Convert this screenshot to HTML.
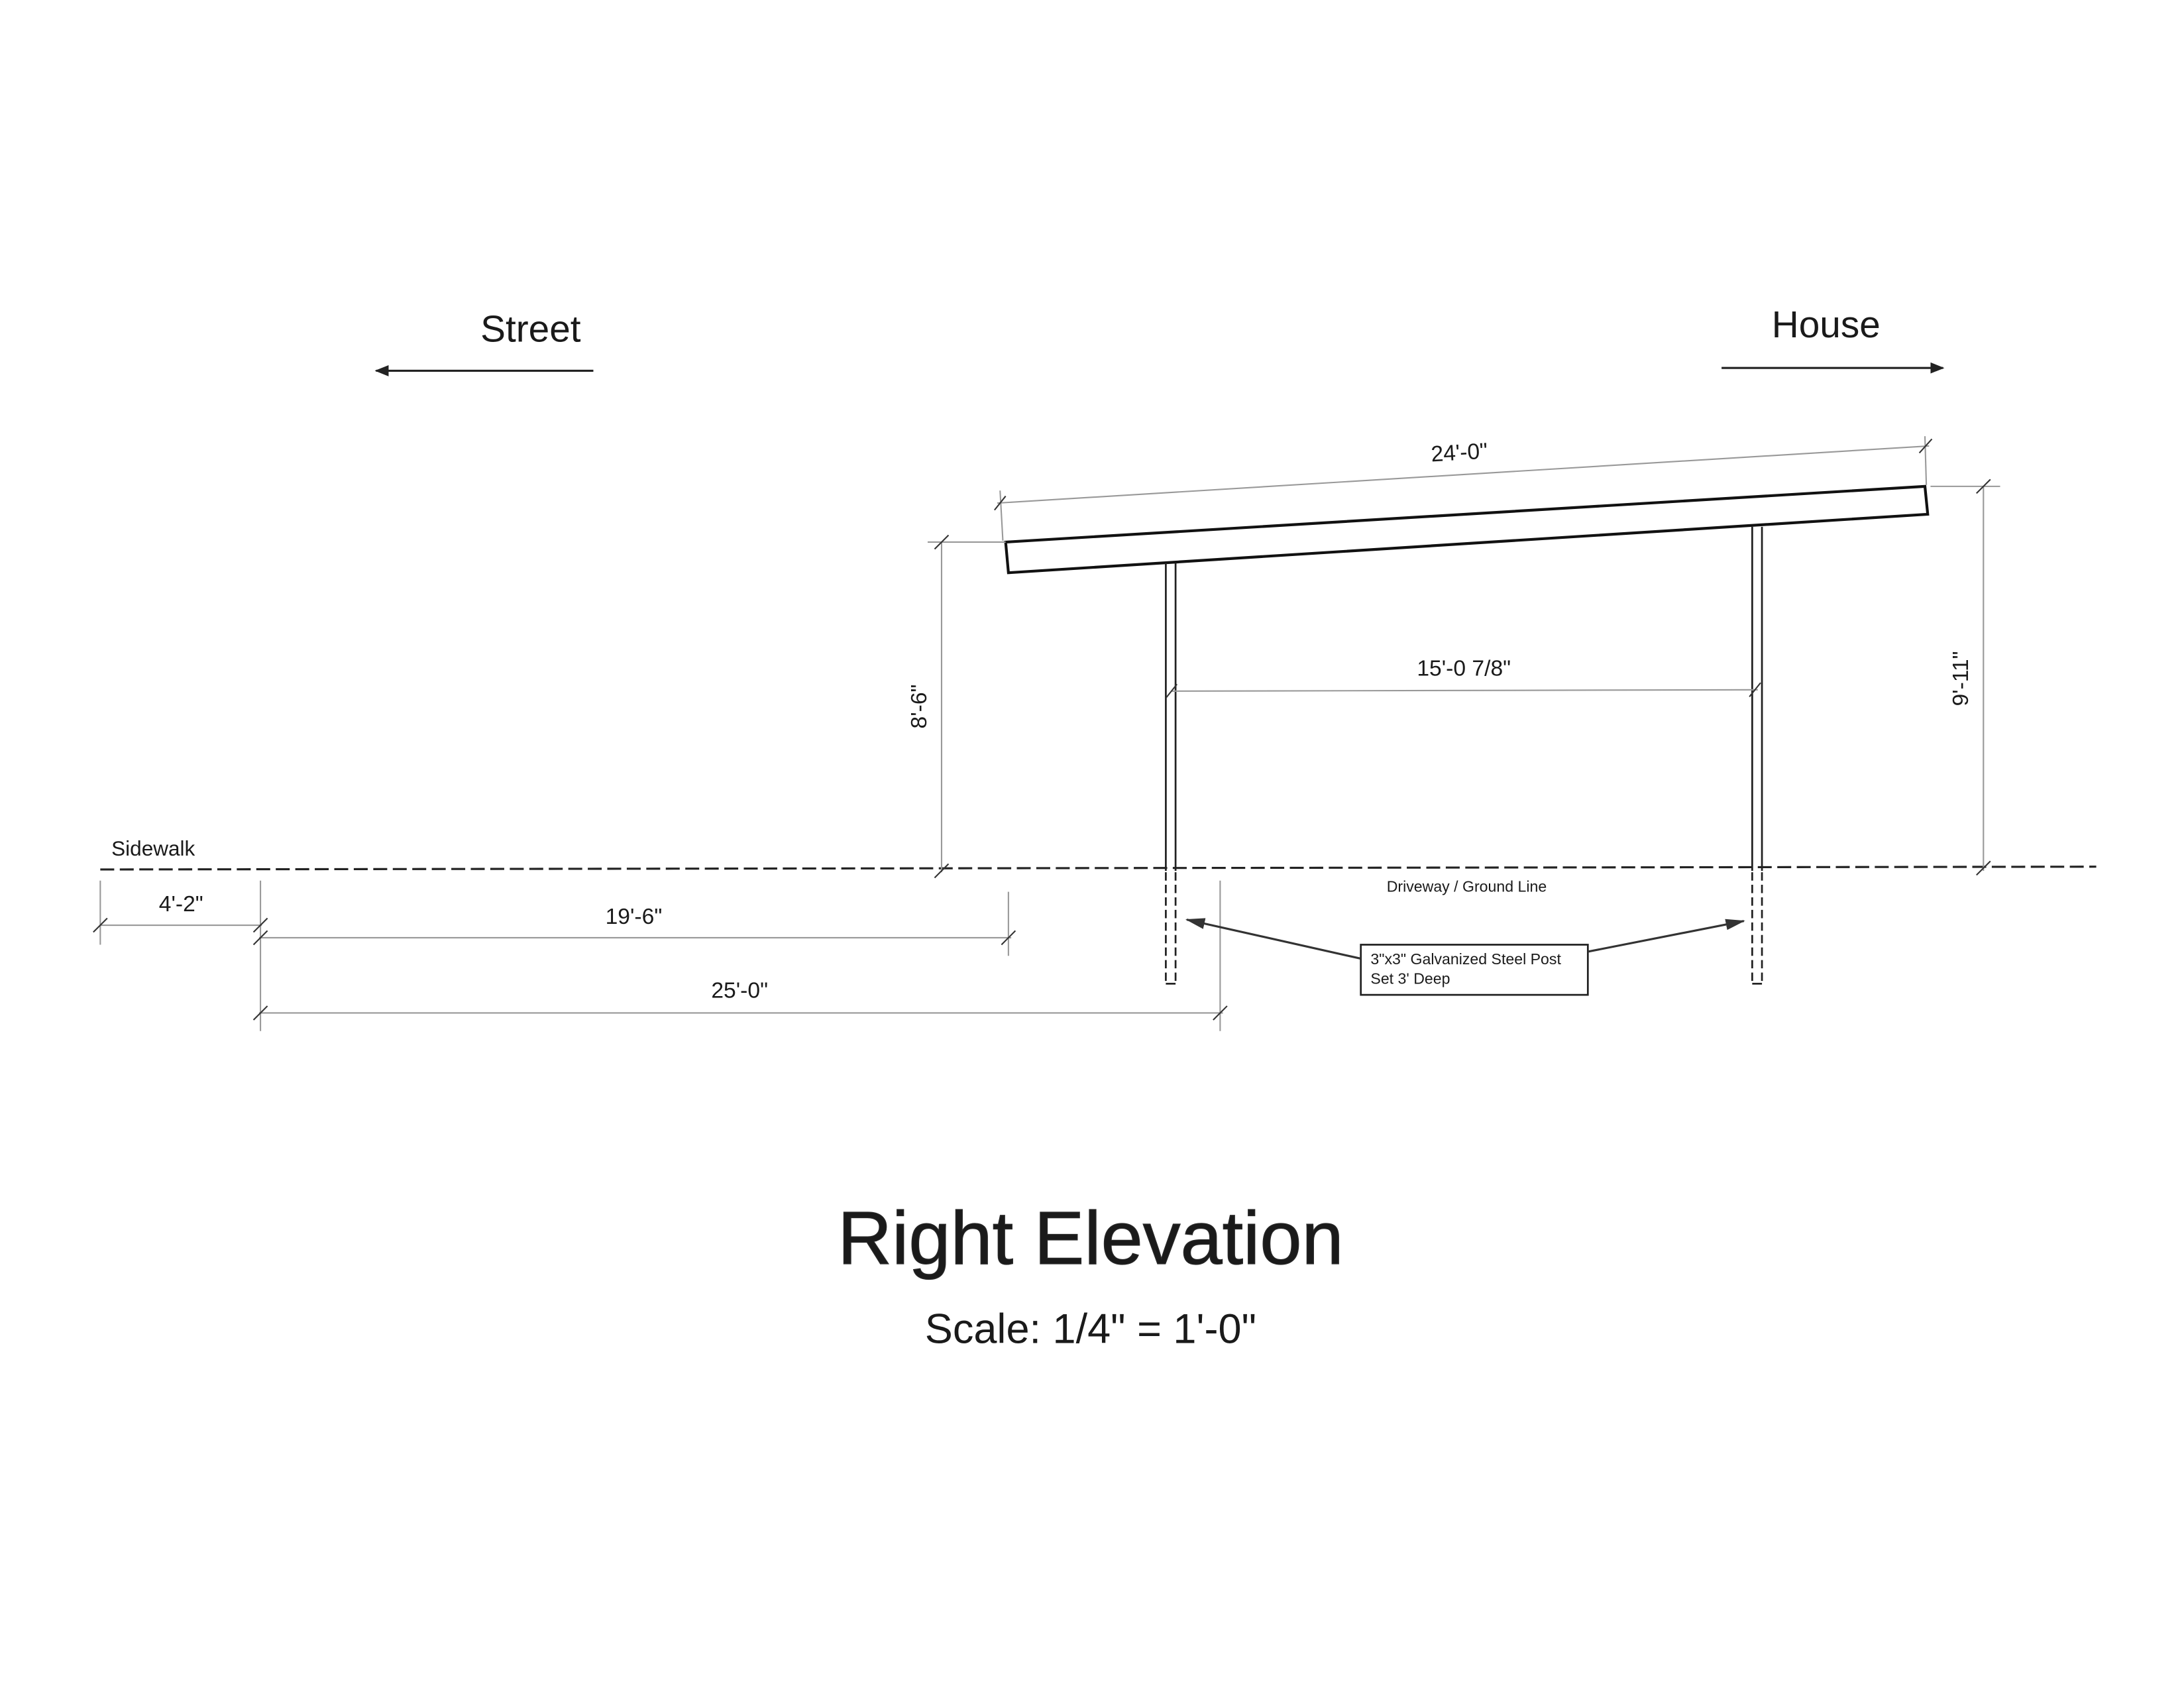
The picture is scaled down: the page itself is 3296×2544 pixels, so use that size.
<!DOCTYPE html>
<html><head><meta charset="utf-8"><style>
html,body{margin:0;padding:0;background:#fff;}
svg{display:block;}
text{font-family:"Liberation Sans",sans-serif;fill:#1a1a1a;}
</style></head><body>
<svg width="3296" height="2544" viewBox="0 0 1568 1210" xmlns="http://www.w3.org/2000/svg">
<defs>
<marker id="ah" markerWidth="10" markerHeight="8" refX="9" refY="4" orient="auto" markerUnits="userSpaceOnUse">
<path d="M0,0 L10,4 L0,8 z" fill="#222"/></marker>
<marker id="ah2" markerWidth="14" markerHeight="8" refX="13" refY="4" orient="auto" markerUnits="userSpaceOnUse">
<path d="M0,0 L14,4 L0,8 z" fill="#333"/></marker>
</defs>
<text x="381" y="245" font-size="27" text-anchor="middle">Street</text>
<line x1="426" y1="266" x2="270" y2="266" stroke="#222" stroke-width="1.5" marker-end="url(#ah)"/>
<text x="1311" y="242" font-size="27" text-anchor="middle">House</text>
<line x1="1236" y1="264" x2="1395" y2="264" stroke="#222" stroke-width="1.5" marker-end="url(#ah)"/>

<polygon points="722,389 1382,349 1384,369 724,411" fill="#fff" stroke="#111" stroke-width="2"/>
<g stroke="#222" stroke-width="1.3" fill="none">
<line x1="837" y1="404" x2="837" y2="625"/><line x1="844" y1="404" x2="844" y2="625"/>
<line x1="1258" y1="378" x2="1258" y2="625"/><line x1="1265" y1="378" x2="1265" y2="625"/>
<g stroke-dasharray="6,3">
<line x1="837" y1="626" x2="837" y2="706"/><line x1="844" y1="626" x2="844" y2="706"/>
<line x1="1258" y1="626" x2="1258" y2="706"/><line x1="1265" y1="626" x2="1265" y2="706"/>
</g>
<line x1="837" y1="706" x2="844" y2="706"/><line x1="1258" y1="706" x2="1265" y2="706"/>
</g>
<line x1="72" y1="624" x2="1505" y2="622" stroke="#222" stroke-width="1.5" stroke-dasharray="10,4"/>
<text x="80" y="614" font-size="15">Sidewalk</text>
<text x="1053" y="640" font-size="11" text-anchor="middle">Driveway / Ground Line</text>

<g stroke="#999" stroke-width="1" fill="none">
<line x1="716" y1="361" x2="1385" y2="320"/>
<line x1="718" y1="352" x2="720" y2="388"/><line x1="1382" y1="313" x2="1383" y2="348"/>
<line x1="676" y1="389" x2="676" y2="626"/><line x1="666" y1="389" x2="722" y2="389"/>
<line x1="1424" y1="349" x2="1424" y2="625"/><line x1="1386" y1="349" x2="1436" y2="349"/>
<line x1="841" y1="496" x2="1262" y2="495"/>
<line x1="72" y1="664" x2="188" y2="664"/>
<line x1="186" y1="673" x2="726" y2="673"/>
<line x1="186" y1="727" x2="878" y2="727"/>
<line x1="72" y1="632" x2="72" y2="678"/>
<line x1="187" y1="632" x2="187" y2="740"/>
<line x1="724" y1="640" x2="724" y2="686"/>
<line x1="876" y1="632" x2="876" y2="740"/>
</g>
<g stroke="#333" stroke-width="1">
<line x1="714" y1="366" x2="722" y2="356"/><line x1="1378" y1="325" x2="1387" y2="315"/>
<line x1="671" y1="394" x2="681" y2="384"/><line x1="671" y1="630" x2="681" y2="620"/>
<line x1="1419" y1="354" x2="1429" y2="344"/><line x1="1419" y1="628" x2="1429" y2="618"/>
<line x1="837" y1="501" x2="845" y2="491"/><line x1="1256" y1="500" x2="1264" y2="490"/>
<line x1="67" y1="669" x2="77" y2="659"/><line x1="182" y1="669" x2="192" y2="659"/>
<line x1="182" y1="678" x2="192" y2="668"/><line x1="719" y1="678" x2="729" y2="668"/>
<line x1="182" y1="732" x2="192" y2="722"/><line x1="871" y1="732" x2="881" y2="722"/>
</g>
<text font-size="16" text-anchor="middle" transform="translate(1048,330) rotate(-3.5)">24'-0"</text>
<text font-size="16" text-anchor="middle" transform="translate(665,507) rotate(-90)">8'-6"</text>
<text font-size="16" text-anchor="middle" transform="translate(1413,487) rotate(-90)">9'-11"</text>
<text x="1051" y="485" font-size="16" text-anchor="middle">15'-0 7/8"</text>
<text x="130" y="654" font-size="16" text-anchor="middle">4'-2"</text>
<text x="455" y="663" font-size="16" text-anchor="middle">19'-6"</text>
<text x="531" y="716" font-size="16" text-anchor="middle">25'-0"</text>

<rect x="977" y="678" width="163" height="36" fill="#fff" stroke="#222" stroke-width="1.3"/>
<text x="984" y="692" font-size="11">3"x3" Galvanized Steel Post</text>
<text x="984" y="706" font-size="11">Set 3' Deep</text>
<line x1="977" y1="688" x2="852" y2="660" stroke="#333" stroke-width="1.5" marker-end="url(#ah2)"/>
<line x1="1140" y1="683" x2="1252" y2="661" stroke="#333" stroke-width="1.5" marker-end="url(#ah2)"/>

<text x="783" y="907" font-size="54" text-anchor="middle" fill="#2a2a2a" stroke="#2a2a2a" stroke-width="0.6">Right Elevation</text>
<text x="783" y="964" font-size="30" text-anchor="middle">Scale: 1/4" = 1'-0"</text>
</svg>
</body></html>
